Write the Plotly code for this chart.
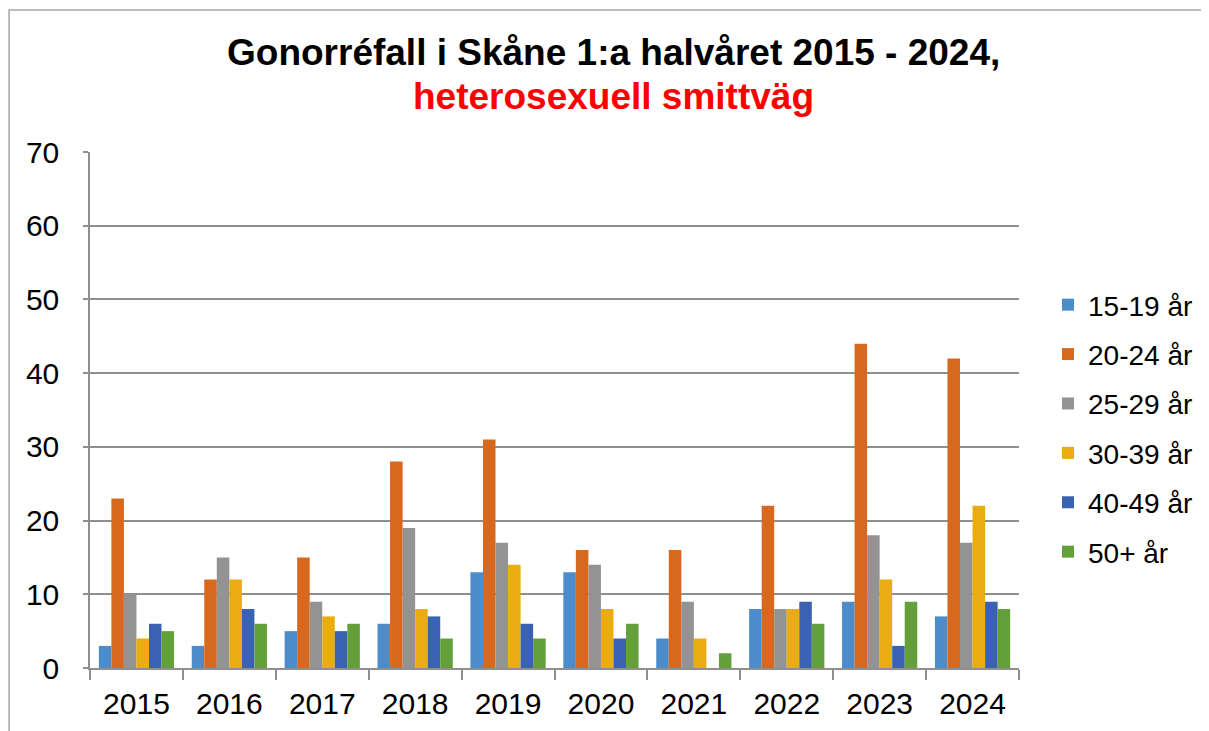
import plotly.graph_objects as go

years = ["2015", "2016", "2017", "2018", "2019", "2020", "2021", "2022", "2023", "2024"]
age_groups = ["15-19 år", "20-24 år", "25-29 år", "30-39 år", "40-49 år", "50+ år"]
v_15_19 = [3, 3, 5, 6, 13, 13, 4, 8, 9, 7]
v_20_24 = [23, 12, 15, 28, 31, 16, 16, 22, 44, 42]
v_25_29 = [10, 15, 9, 19, 17, 14, 9, 8, 18, 17]
v_30_39 = [4, 12, 7, 8, 14, 8, 4, 8, 12, 22]
v_40_49 = [6, 8, 5, 7, 6, 4, 0, 9, 3, 9]
v_50p = [5, 6, 6, 4, 4, 6, 2, 6, 9, 8]
series = [v_15_19, v_20_24, v_25_29, v_30_39, v_40_49, v_50p]
colors = ["#4C8CCA", "#D9681F", "#939393", "#E9AD12", "#3A62B3", "#63A03A"]

fig = go.Figure()
for i, (name, vals, col) in enumerate(zip(age_groups, series, colors)):
    fig.add_trace(go.Bar(x=years, y=vals, name=name, marker_color=col,
                         marker_line_width=0, legendgroup=str(i)))

FONT = "Liberation Sans, Arial, sans-serif"
L, T, PW, PH = 82, 144, 930, 516
fig.update_layout(
    width=1201, height=723,
    margin=dict(l=L, r=1201 - L - PW, t=T, b=723 - T - PH),
    paper_bgcolor="white", plot_bgcolor="white",
    barmode="group", bargap=0.19, bargroupgap=0,
    font=dict(family=FONT, color="black"),
    showlegend=True,
    legend=dict(x=(1040 - L) / PW, y=0.752, xanchor="left", yanchor="top",
                font=dict(size=28, family=FONT), tracegroupgap=10,
                traceorder="grouped", itemwidth=30),
    xaxis=dict(showline=True, linecolor="#8f8f8f", linewidth=1.5,
               ticks="outside", tickson="boundaries", ticklen=10,
               tickcolor="#8f8f8f", tickwidth=1.5,
               tickfont=dict(size=30, family=FONT), ticklabelstandoff=8),
    yaxis=dict(range=[0, 70], dtick=10, showgrid=True, gridcolor="#8f8f8f",
               gridwidth=1.5, showline=True, linecolor="#8f8f8f", linewidth=1.5,
               ticks="outside", ticklen=5, tickcolor="#8f8f8f", tickwidth=1.5,
               tickfont=dict(size=30, family=FONT), ticklabelstandoff=18,
               zeroline=False),
    annotations=[
        dict(text="<b>Gonorréfall i Skåne 1:a halvåret 2015 - 2024,</b>",
             xref="paper", yref="paper", x=(606 - L) / PW, y=(T + PH - 44) / PH,
             xanchor="center", yanchor="middle", showarrow=False,
             font=dict(size=37, family=FONT, color="black")),
        dict(text="<b>heterosexuell smittväg</b>",
             xref="paper", yref="paper", x=(606 - L) / PW, y=(T + PH - 88) / PH,
             xanchor="center", yanchor="middle", showarrow=False,
             font=dict(size=37, family=FONT, color="#FF0000")),
    ],
    shapes=[
        dict(type="rect", xref="paper", yref="paper",
             x0=(1 - L) / PW, x1=(1215 - L) / PW,
             y0=(T + PH - 740) / PH, y1=(T + PH - 2) / PH,
             line=dict(color="#a6a6a6", width=1.5), layer="below"),
    ],
)
fig.write_html("out.html")
